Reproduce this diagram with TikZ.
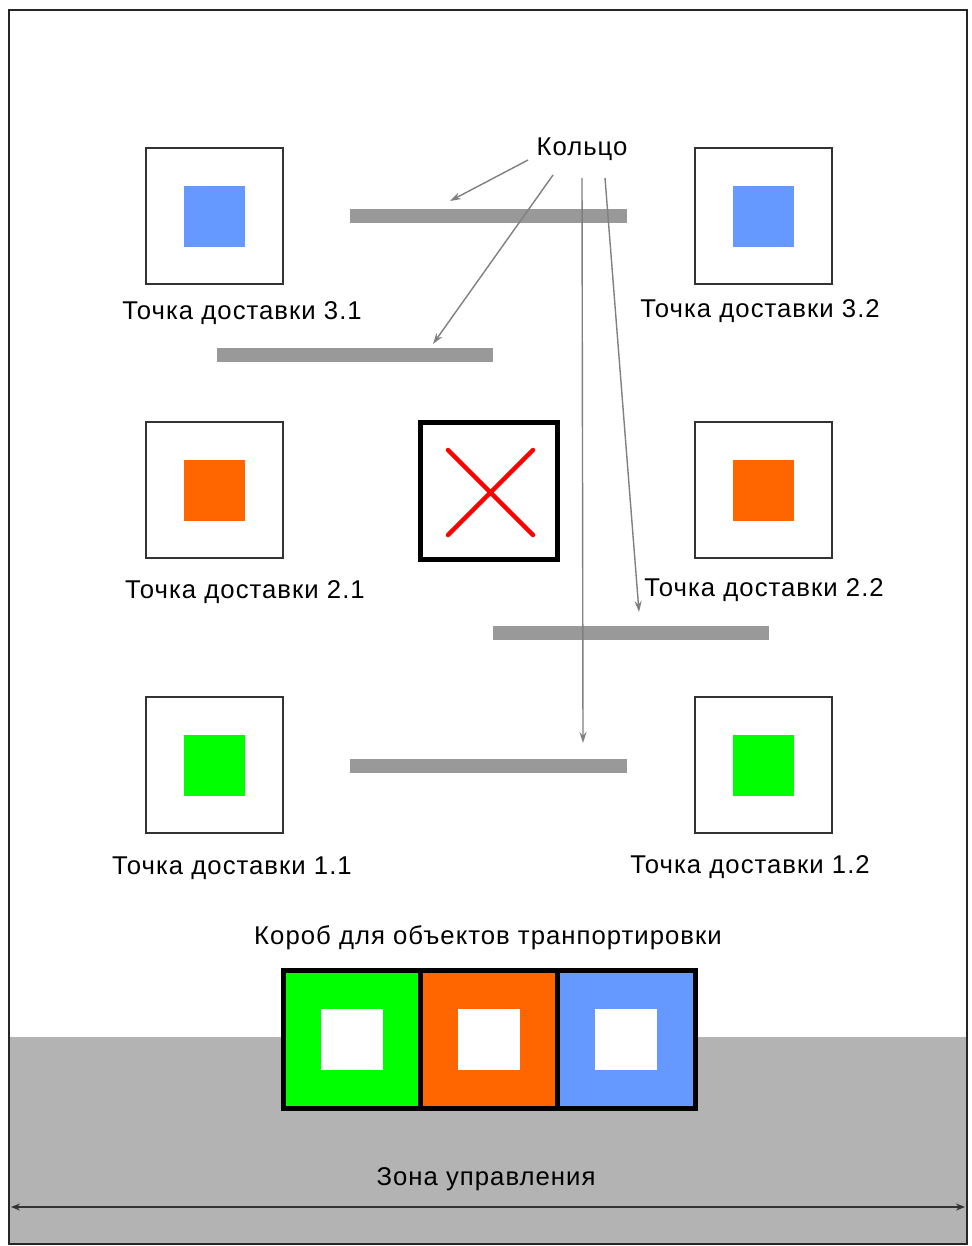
\documentclass[tikz,border=0pt]{standalone}
\usepackage{fontspec}
\setmainfont{Liberation Sans}
\usetikzlibrary{arrows.meta}
\definecolor{cblue}{HTML}{6699FF}
\definecolor{corange}{HTML}{FF6600}
\definecolor{cgreen}{HTML}{00FF00}
\definecolor{cbar}{HTML}{999999}
\definecolor{czone}{HTML}{B3B3B3}
\begin{document}
\begin{tikzpicture}[x=1pt,y=-1pt,
  lbl/.style={font=\fontsize{25.7}{29}\selectfont\addfontfeature{LetterSpace=4}, inner sep=0pt},
  dpbox/.style={draw=black!80, line width=1.3pt, fill=white},
  bar/.style={fill=cbar, draw=none},
  ringarrow/.style={draw=black!50, line width=1.4pt, -{Stealth[length=11pt,width=7pt]}},
  cellbox/.style={draw=black, line width=5pt}]
\useasboundingbox (0,0) rectangle (971,1246);
\fill[white] (0,0) rectangle (971,1246);
\fill[czone] (9,1037) rectangle (967,1243);
\draw[black!85, line width=2pt] (9,10) rectangle (967,1244);

% delivery points
\foreach \n/\x/\y/\c in {p31/146/148/cblue, p32/695/148/cblue, p21/146/422/corange, p22/695/422/corange, p11/146/697/cgreen, p12/695/697/cgreen}{
  \draw[dpbox] (\x,\y) rectangle ++(137,136);
  \fill[\c] (\x+38,\y+38) rectangle ++(61,61);
  \coordinate (\n) at (\x+68.5,\y+68);
}
\node[lbl] (l31) at (242,313) {Точка доставки 3.1};
\node[lbl] (l32) at (760,311) {Точка доставки 3.2};
\node[lbl] (l21) at (245,592) {Точка доставки 2.1};
\node[lbl] (l22) at (764,590) {Точка доставки 2.2};
\node[lbl] (l11) at (232,868) {Точка доставки 1.1};
\node[lbl] (l12) at (750,867) {Точка доставки 1.2};

% ring bars
\fill[bar] (350,209) rectangle (627,223);
\fill[bar] (217,348) rectangle (493,362);
\fill[bar] (493,626) rectangle (769,640);
\fill[bar] (350,759) rectangle (627,773);

% blocked cell
\draw[black, line width=5pt] (420,422) rectangle (557,559);
\draw[red, line width=4.5pt, line cap=round] (448,450) -- (533,535);
\draw[red, line width=4.5pt, line cap=round] (533,450) -- (448,535);

% ring label and arrows
\node[lbl] (ring) at (582,149) {Кольцо};
\coordinate (a1s) at (528,160); \coordinate (a1e) at (450,201);
\coordinate (a2s) at (553,175); \coordinate (a2e) at (433,344);
\coordinate (a3s) at (582,178); \coordinate (a3e) at (583,743);
\coordinate (a4s) at (605,178); \coordinate (a4e) at (639,612);
\draw[ringarrow] (a1s) -- (a1e);
\draw[ringarrow] (a2s) -- (a2e);
\draw[ringarrow] (a3s) -- (a3e);
\draw[ringarrow] (a4s) -- (a4e);

% box for objects
\node[lbl] (boxlbl) at (488,938) {Короб для объектов транпортировки};
\fill[cgreen] (283,970) rectangle (420,1108);
\fill[corange] (420,970) rectangle (557,1108);
\fill[cblue] (557,970) rectangle (695,1108);
\fill[white] (321,1009) rectangle ++(62,61);
\fill[white] (458,1009) rectangle ++(62,61);
\fill[white] (595,1009) rectangle ++(62,61);
\draw[cellbox] (283,970) rectangle (695,1108);
\draw[cellbox] (420,970) -- (420,1108);
\draw[cellbox] (557,970) -- (557,1108);

% control zone
\node[lbl] (zone) at (486,1179) {Зона управления};
\coordinate (zl) at (11,1207);
\coordinate (zr) at (965,1207);
\draw[black!80, line width=1.5pt, {Stealth[length=9pt,width=7pt]}-{Stealth[length=9pt,width=7pt]}] (zl) -- (zr);
\end{tikzpicture}
\end{document}
